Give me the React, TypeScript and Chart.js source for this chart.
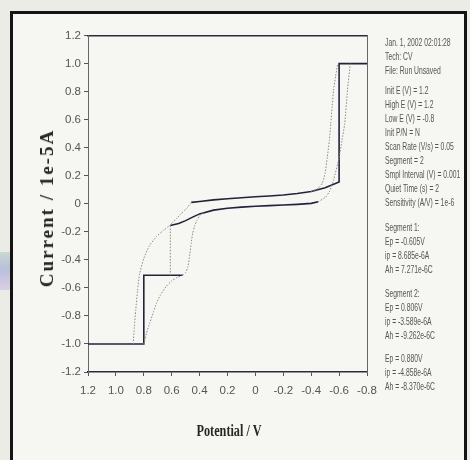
import React, { useEffect, useRef } from "react";
import { Chart, registerables } from "chart.js";

Chart.register(...registerables);

// ---- tick values / labels ----
const xTickValues = [1.2, 1.0, 0.8, 0.6, 0.4, 0.2, 0, -0.2, -0.4, -0.6, -0.8];
const xTickLabels = ["1.2", "1.0", "0.8", "0.6", "0.4", "0.2", "0", "-0.2", "-0.4", "-0.6", "-0.8"];
const yTickValues = [1.2, 1.0, 0.8, 0.6, 0.4, 0.2, 0, -0.2, -0.4, -0.6, -0.8, -1.0, -1.2];
const yTickLabels = ["1.2", "1.0", "0.8", "0.6", "0.4", "0.2", "0", "-0.2", "-0.4", "-0.6", "-0.8", "-1.0", "-1.2"];

// ---- series (Potential / V, Current / 1e-5A) ----
// solid: saturated start, step up, plateau
const startX = [1.2, 0.8, 0.8, 0.52];
const startY = [-1.0, -1.0, -0.51, -0.51];
// solid: upper branch then overload at 1.0
const upperX = [0.46, 0.4, 0.3, 0.2, 0.1, 0, -0.1, -0.2, -0.3, -0.4, -0.5, -0.6, -0.6, -0.8];
const upperY = [0.01, 0.016, 0.028, 0.036, 0.043, 0.05, 0.056, 0.063, 0.073, 0.088, 0.115, 0.155, 1.0, 1.0];
// solid: lower branch
const lowerX = [0.61, 0.55, 0.5, 0.45, 0.4, 0.3, 0.2, 0.1, 0, -0.1, -0.2, -0.3, -0.4, -0.45];
const lowerY = [-0.155, -0.14, -0.12, -0.095, -0.072, -0.045, -0.032, -0.024, -0.018, -0.013, -0.009, -0.004, 0.003, 0.015];
// dotted curves
const curveAX = [0.876, 0.868, 0.858, 0.845, 0.83, 0.8, 0.76, 0.71, 0.66, 0.61, 0.57, 0.53, 0.49, 0.46];
const curveAY = [-1.0, -0.88, -0.76, -0.62, -0.5, -0.39, -0.3, -0.235, -0.19, -0.15, -0.11, -0.068, -0.03, 0.01];
const curveBX = [0.8, 0.78, 0.757, 0.73, 0.71, 0.68, 0.64, 0.6, 0.56, 0.52];
const curveBY = [-1.0, -0.92, -0.85, -0.77, -0.71, -0.65, -0.59, -0.55, -0.525, -0.51];
const curveCX = [0.52, 0.5, 0.484, 0.47, 0.46, 0.45, 0.436, 0.42, 0.4, 0.37];
const curveCY = [-0.51, -0.49, -0.45, -0.36, -0.28, -0.21, -0.16, -0.12, -0.085, -0.06];
const stepDX = [0.61, 0.61];
const stepDY = [-0.51, -0.155];
const curveEX = [-0.4, -0.45, -0.48, -0.5, -0.515, -0.53, -0.54, -0.55, -0.56, -0.575, -0.59];
const curveEY = [0.088, 0.11, 0.15, 0.22, 0.33, 0.45, 0.57, 0.69, 0.81, 0.91, 1.0];
const curveFX = [-0.45, -0.5, -0.53, -0.56, -0.6, -0.62, -0.64, -0.66, -0.68];
const curveFY = [0.015, 0.045, 0.086, 0.17, 0.33, 0.45, 0.57, 0.81, 1.0];

// ---- side info text ----
const infoHeader = ["Jan. 1, 2002   02:01:28", "Tech: CV", "File: Run Unsaved"];
const infoParams = [
  "Init E (V) = 1.2",
  "High E (V) = 1.2",
  "Low E (V) = -0.8",
  "Init P/N = N",
  "Scan Rate (V/s) = 0.05",
  "Segment = 2",
  "Smpl Interval (V) = 0.001",
  "Quiet Time (s) = 2",
  "Sensitivity (A/V) = 1e-6",
];
const infoSeg1 = ["Segment 1:", "Ep = -0.605V", "ip = 8.685e-6A", "Ah = 7.271e-6C"];
const infoSeg2 = ["Segment 2:", "Ep = 0.806V", "ip = -3.589e-6A", "Ah = -9.262e-6C"];
const infoSeg3 = ["Ep = 0.880V", "ip = -4.858e-6A", "Ah = -8.370e-6C"];

const infoGroups = [
  { lines: infoHeader, start: 42 },
  { lines: infoParams, start: 90 },
  { lines: infoSeg1, start: 227 },
  { lines: infoSeg2, start: 293 },
  { lines: infoSeg3, start: 358 },
];

const pts = (xs: number[], ys: number[]) => xs.map((x, i) => ({ x, y: ys[i] }));

const SOLID = "#22233a";
const DOT = "#8a8a8a";

export default function App() {
  const ref = useRef<HTMLCanvasElement | null>(null);

  useEffect(() => {
    if (!ref.current) return;
    const dotted = (xs: number[], ys: number[]) => ({
      data: pts(xs, ys),
      showLine: true,
      borderColor: DOT,
      borderWidth: 1,
      borderDash: [1.5, 1.5],
      pointRadius: 0,
      tension: 0.2,
    });
    const solid = (xs: number[], ys: number[]) => ({
      data: pts(xs, ys),
      showLine: true,
      borderColor: SOLID,
      borderWidth: 1.6,
      pointRadius: 0,
      tension: 0,
    });
    const tickFont = { family: "'Liberation Sans Narrow', 'Liberation Sans', sans-serif", size: 11.5 };
    const chart = new Chart(ref.current, {
      type: "scatter",
      data: {
        datasets: [
          dotted(curveAX, curveAY),
          dotted(curveBX, curveBY),
          dotted(curveCX, curveCY),
          dotted(stepDX, stepDY),
          dotted(curveEX, curveEY),
          dotted(curveFX, curveFY),
          solid(lowerX, lowerY),
          solid(upperX, upperY),
          solid(startX, startY),
        ] as any,
      },
      options: {
        animation: false,
        responsive: false,
        layout: { padding: { left: 0, top: 35.6, right: 103, bottom: 0 } },
        plugins: { legend: { display: false }, tooltip: { enabled: false } },
        scales: {
          x: {
            type: "linear",
            position: "bottom",
            reverse: true,
            min: -0.8,
            max: 1.2,
            afterBuildTicks: (s: any) => {
              s.ticks = xTickValues.map((v) => ({ value: v }));
            },
            afterFit: (s: any) => {
              s.height = 88;
            },
            ticks: {
              font: tickFont,
              color: "#555",
              padding: 8,
              maxRotation: 0,
              autoSkip: false,
              callback: (v: any) => {
                const i = xTickValues.findIndex((t) => Math.abs(t - Number(v)) < 1e-6);
                return i >= 0 ? xTickLabels[i] : "";
              },
            },
            grid: { drawOnChartArea: false, drawTicks: true, tickLength: 4, color: "#555" },
            border: { display: true, color: "#2b2b3b", width: 1.6 },
          },
          x2: {
            type: "linear",
            position: "top",
            reverse: true,
            min: -0.8,
            max: 1.2,
            afterFit: (s: any) => {
              s.height = 0;
            },
            ticks: { display: false },
            grid: { drawOnChartArea: false, drawTicks: false },
            border: { display: true, color: "#2b2b3b", width: 1.6 },
          },
          y: {
            type: "linear",
            position: "left",
            min: -1.2,
            max: 1.2,
            afterBuildTicks: (s: any) => {
              s.ticks = yTickValues.map((v) => ({ value: v }));
            },
            afterFit: (s: any) => {
              s.width = 88;
            },
            ticks: {
              font: tickFont,
              color: "#555",
              padding: 3,
              autoSkip: false,
              callback: (v: any) => {
                const i = yTickValues.findIndex((t) => Math.abs(t - Number(v)) < 1e-6);
                return i >= 0 ? yTickLabels[i] : "";
              },
            },
            grid: { drawOnChartArea: false, drawTicks: true, tickLength: 4, color: "#555" },
            border: { display: true, color: "#666", width: 1, dash: [1, 2] },
          },
          y2: {
            type: "linear",
            position: "right",
            min: -1.2,
            max: 1.2,
            afterBuildTicks: (s: any) => {
              s.ticks = yTickValues.map((v) => ({ value: v }));
            },
            afterFit: (s: any) => {
              s.width = 0;
            },
            ticks: { display: false },
            grid: { drawOnChartArea: false, drawTicks: false },
            border: { display: true, color: "#666", width: 1, dash: [1, 2] },
          },
        },
      } as any,
    });
    return () => chart.destroy();
  }, []);

  return (
    <div
      style={{
        position: "absolute",
        left: 0,
        top: 0,
        width: 470,
        height: 460,
        overflow: "hidden",
        background: "#ecece6",
      }}
    >
      <div
        style={{
          position: "absolute",
          left: 0,
          top: 252,
          width: 10,
          height: 38,
          background: "linear-gradient(180deg, #c8d8d0, #b8c0dc 45%, #dccfe2)",
        }}
      />
      <div
        style={{
          position: "absolute",
          left: 10,
          top: 11,
          width: 451,
          height: 470,
          border: "3.5px solid #141414",
          background: "#f6f6f2",
        }}
      />
      <canvas
        ref={ref}
        width={470}
        height={460}
        style={{ position: "absolute", left: 0, top: 0 }}
      />
      <div
        style={{
          position: "absolute",
          left: 47,
          top: 208,
          transform: "translate(-50%, -50%) rotate(-90deg)",
          whiteSpace: "nowrap",
          fontFamily: "'Liberation Serif', serif",
          fontWeight: "bold",
          fontSize: 19,
          letterSpacing: 2,
          color: "#262626",
        }}
      >
        Current / 1e-5A
      </div>
      <div
        style={{
          position: "absolute",
          left: 229,
          top: 431,
          transform: "translate(-50%, -50%) scaleX(0.72)",
          whiteSpace: "nowrap",
          fontFamily: "'Liberation Serif', serif",
          fontWeight: "bold",
          fontSize: 17,
          color: "#262626",
        }}
      >
        Potential / V
      </div>
      {infoGroups.map((g, gi) =>
        g.lines.map((t, li) => (
          <div
            key={gi + "-" + li}
            style={{
              position: "absolute",
              left: 385,
              top: g.start + li * 14 - 7,
              height: 14,
              lineHeight: "14px",
              whiteSpace: "nowrap",
              transform: "scaleX(0.59)",
              transformOrigin: "left center",
              fontFamily: "'Liberation Sans Narrow', 'Liberation Sans', sans-serif",
              fontSize: 11.5,
              color: "#555",
            }}
          >
            {t}
          </div>
        ))
      )}
    </div>
  );
}
